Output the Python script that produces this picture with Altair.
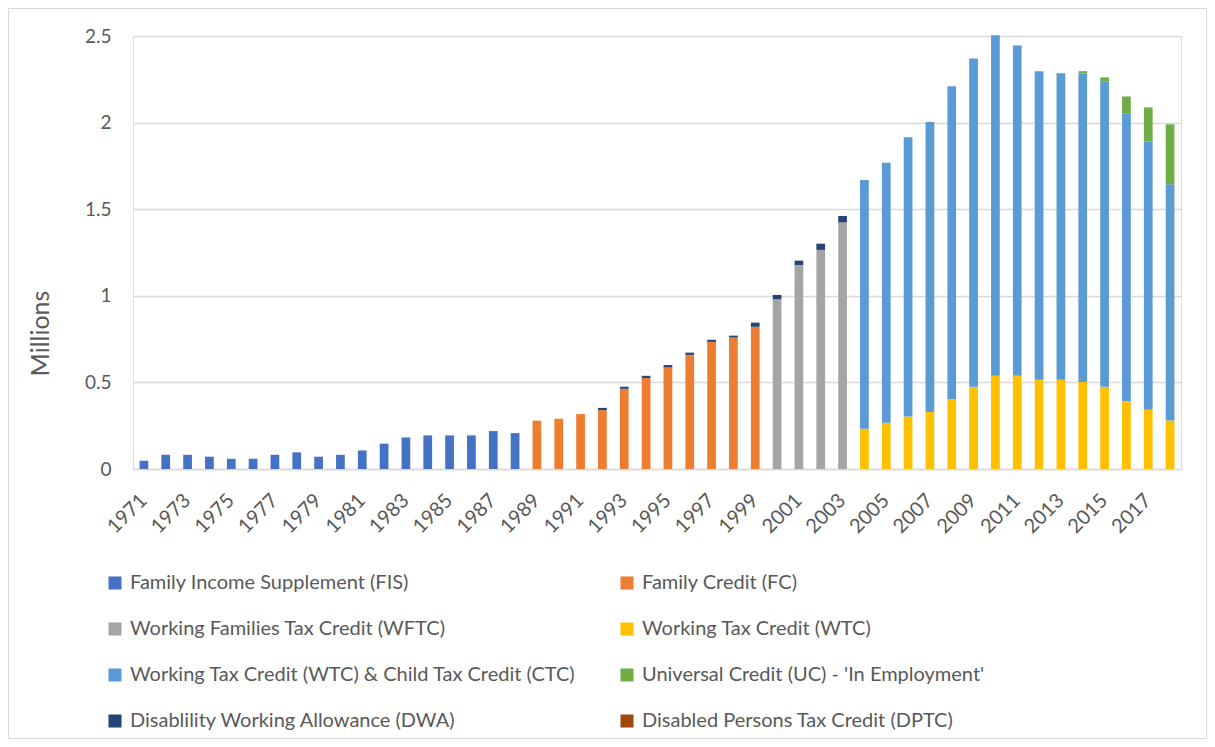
import altair as alt
import pandas as pd

years = ["1971", "1972", "1973", "1974", "1975", "1976", "1977", "1978", "1979", "1980",
         "1981", "1982", "1983", "1984", "1985", "1986", "1987", "1988", "1989", "1990",
         "1991", "1992", "1993", "1994", "1995", "1996", "1997", "1998", "1999", "2000",
         "2001", "2002", "2003", "2004", "2005", "2006", "2007", "2008", "2009", "2010",
         "2011", "2012", "2013", "2014", "2015", "2016", "2017", "2018"]
tick_labels = ["1971", "1973", "1975", "1977", "1979", "1981", "1983", "1985", "1987",
               "1989", "1991", "1993", "1995", "1997", "1999", "2001", "2003", "2005",
               "2007", "2009", "2011", "2013", "2015", "2017"]

series_names = [
    "Family Income Supplement (FIS)",
    "Family Credit (FC)",
    "Working Families Tax Credit (WFTC)",
    "Working Tax Credit (WTC)",
    "Working Tax Credit (WTC) & Child Tax Credit (CTC)",
    "Universal Credit (UC) - 'In Employment'",
    "Disablility Working Allowance (DWA)",
    "Disabled Persons Tax Credit (DPTC)",
]
series_colors = ["#4472C4", "#ED7D31", "#A5A5A5", "#FFC000", "#5B9BD5", "#70AD47", "#264478", "#9E480E"]

# values in millions, each series with the first year it appears
fis_start, fis = 1971, [0.048, 0.082, 0.082, 0.071, 0.059, 0.059, 0.082, 0.096, 0.071, 0.082,
                        0.107, 0.146, 0.182, 0.194, 0.194, 0.194, 0.219, 0.207]
fc_start, fc = 1989, [0.279, 0.290, 0.317, 0.340, 0.463, 0.525, 0.586, 0.659, 0.734, 0.759, 0.821]
wftc_start, wftc = 2000, [0.980, 1.178, 1.265, 1.424]
wtc_start, wtc = 2004, [0.232, 0.267, 0.303, 0.329, 0.404, 0.475, 0.538, 0.538, 0.515, 0.515,
                        0.502, 0.475, 0.392, 0.342, 0.280]
wtcctc_start, wtcctc = 2004, [1.436, 1.501, 1.613, 1.674, 1.806, 1.895, 1.967, 1.907, 1.782, 1.770,
                              1.782, 1.762, 1.659, 1.549, 1.364]
uc_start, uc = 2014, [0.013, 0.024, 0.100, 0.197, 0.346]
dwa_start, dwa = 1992, [0.013, 0.012, 0.013, 0.014, 0.013, 0.012, 0.011, 0.024, 0.025, 0.025,
                        0.036, 0.037]
dptc_start, dptc = 2000, []

all_series = [(fis_start, fis), (fc_start, fc), (wftc_start, wftc), (wtc_start, wtc),
              (wtcctc_start, wtcctc), (uc_start, uc), (dwa_start, dwa), (dptc_start, dptc)]

rows = []
for idx, (start, vals) in enumerate(all_series):
    for i, v in enumerate(vals):
        rows.append({"year": str(start + i), "series": series_names[idx], "order": idx, "value": v})
df = pd.DataFrame(rows)

W, H = 1048, 433
FONT = "Lato"
GREY = "#595959"

bars = alt.Chart(df).mark_bar().encode(
    x=alt.X("year:O", sort=years,
            scale=alt.Scale(domain=years, paddingInner=0.6, paddingOuter=0.3),
            axis=alt.Axis(title=None, values=tick_labels, labelAngle=-45, labelAlign="right",
                          labelBaseline="middle", labelPadding=28, ticks=False,
                          domainColor="#D9D9D9", domainWidth=1.5, labelColor=GREY,
                          labelFontSize=20, labelFont=FONT)),
    y=alt.Y("value:Q", stack="zero",
            scale=alt.Scale(domain=[0, 2.5], nice=False),
            axis=alt.Axis(title="Millions", values=[0, 0.5, 1, 1.5, 2, 2.5],
                          labelExpr="datum.value == 0 ? '0' : format(datum.value, '~g')",
                          ticks=False, domain=False, gridColor="#D9D9D9", gridWidth=1.5,
                          labelColor=GREY, labelFontSize=19, labelFont=FONT, labelPadding=22,
                          titleColor=GREY, titleFontSize=25, titleFont=FONT,
                          titleFontWeight="normal", titleX=-93, titleY=297,
                          titleAlign="center", titleBaseline="middle")),
    color=alt.Color("series:N",
                    scale=alt.Scale(domain=series_names, range=series_colors),
                    legend=alt.Legend(title=None, orient="none", legendX=-28, legendY=537,
                                      direction="horizontal",
                                      columns=2, columnPadding=41, rowPadding=26,
                                      symbolType="square", symbolSize=170, symbolStrokeWidth=0,
                                      labelFontSize=20, labelFont=FONT, labelColor=GREY,
                                      labelLimit=700, labelOffset=5)),
    order=alt.Order("order:Q", sort="ascending"),
)

frame = alt.Chart(alt.Data(values=[{}])).mark_rect(
    fillOpacity=0, stroke="#D9D9D9", strokeWidth=1
).encode(
    x=alt.value(-124.5), x2=alt.value(W + 25.5), y=alt.value(-27.5), y2=alt.value(H + 269.5)
)

chart = alt.layer(bars, frame).properties(
    width=W, height=H,
    autosize=alt.AutoSizeParams(type="none"),
    padding={"left": 125, "top": 28, "right": 26, "bottom": 270},
).configure_view(stroke=None).configure(font=FONT)

chart.save("out.html", embed_options={"renderer": "svg", "actions": False})
